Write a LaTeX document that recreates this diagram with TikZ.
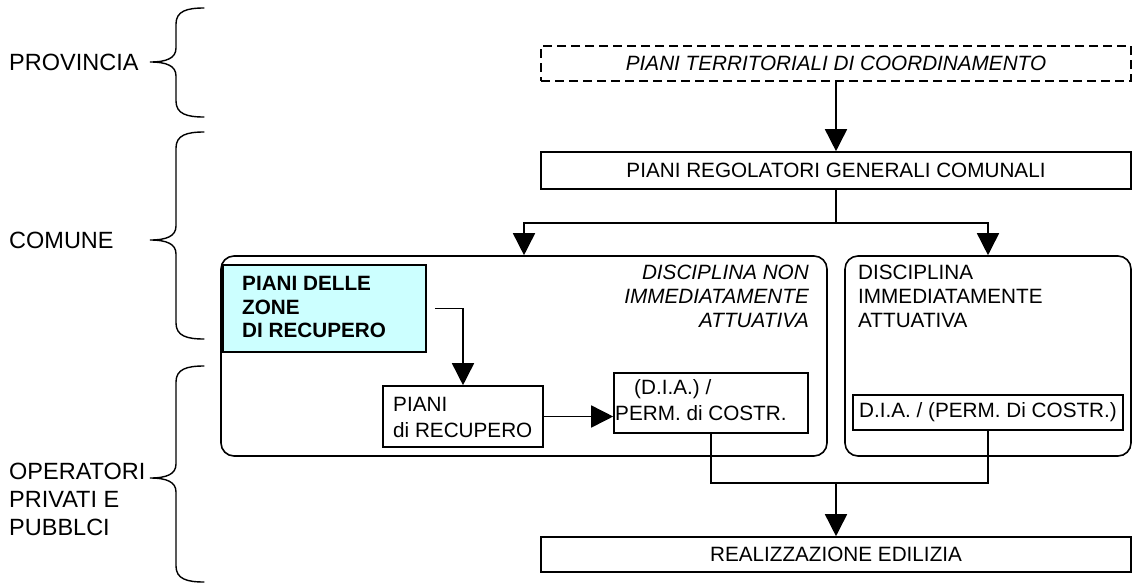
\documentclass[tikz,border=0pt]{standalone}
\usepackage{fontspec}
\setmainfont{Liberation Sans}
\usetikzlibrary{arrows.meta,fit}
\definecolor{paleCyan}{RGB}{204,255,255}
\tikzset{
  pics/curlybr/.style args={#1/#2/#3}{code={
    \draw[bracestroke] (204,#1) .. controls (187,#1) and (176,#1+3) .. (176,#1+16)
      -- (176,#2-14) .. controls (176,#2-4) and (167,#2) .. (150,#2)
      .. controls (167,#2) and (176,#2+4) .. (176,#2+14)
      -- (176,#3-16) .. controls (176,#3-3) and (187,#3) .. (204,#3);
  }}
}
\begin{document}
\begin{tikzpicture}[x=1pt,y=-1pt,
  box/.style={draw, line width=1.6pt, inner sep=0pt},
  rbox/.style={box, rounded corners=13pt},
  conn/.style={line width=1.6pt},
  arr/.style={conn, -{Triangle[length=22pt,width=22pt]}},
  bracestroke/.style={line width=1.4pt, line cap=round},
  lbl/.style={inner sep=0pt, font=\fontsize{23.5}{28}\selectfont, align=left},
  txt/.style={inner sep=0pt, font=\fontsize{20.7}{24}\selectfont},
]
\useasboundingbox (0,0) rectangle (1139,584);

% level labels and braces
\node[lbl, anchor=west] (provincia) at (9,62) {PROVINCIA};
\node[lbl, anchor=west] (comune) at (9,240) {COMUNE};
\node[lbl, anchor=west] (operatori) at (9,499) {OPERATORI\\PRIVATI E\\PUBBLCI};
\pic at (0,0) {curlybr=8/62/117};
\pic at (0,0) {curlybr=132/240/339};
\pic at (0,0) {curlybr=366/478/582};

% boxes
\node[box, dash pattern=on 9pt off 5pt, fit={(541,46) (1131,81)}] (ptc) {};
\node[box, fit={(541,152) (1131,189)}] (prg) {};
\node[rbox, fit={(221,256) (827,456)}] (lbox) {};
\node[rbox, fit={(845,256) (1131,456)}] (rbox) {};
\node[box, fill=paleCyan, fit={(223,265) (426,352)}] (pzr) {};
\node[box, fit={(383,386) (543,447)}] (pdr) {};
\node[box, fit={(614,373) (808,433)}] (dial) {};
\node[box, fit={(853,395) (1123,430)}] (diar) {};
\node[box, fit={(541,537) (1131,572)}] (real) {};

% texts
\node[txt, font=\fontsize{20.7}{24}\selectfont\itshape] (ptctxt) at (836,63) {PIANI TERRITORIALI DI COORDINAMENTO};
\node[txt] (prgtxt) at (836,170.5) {PIANI REGOLATORI GENERALI COMUNALI};
\node[txt, font=\fontsize{20.7}{24}\selectfont\itshape, align=right, anchor=east] (ltxt) at (809,296)
  {DISCIPLINA NON\\IMMEDIATAMENTE\\ATTUATIVA};
\node[txt, align=left, anchor=west] (rtxt) at (858,296)
  {DISCIPLINA\\IMMEDIATAMENTE\\ATTUATIVA};
\node[txt, font=\fontsize{20.7}{23.5}\selectfont\bfseries, align=left, anchor=west] (pzrtxt) at (242,307)
  {PIANI DELLE\\ZONE\\DI RECUPERO};
\node[txt, font=\fontsize{20.7}{26}\selectfont, align=left, anchor=west] (pdrtxt) at (393,417)
  {PIANI\\di RECUPERO};
\node[txt, font=\fontsize{20.7}{26}\selectfont, align=left, anchor=west] (dialtxt) at (615,400)
  {\hspace*{19pt}(D.I.A.) /\\PERM. di COSTR.};
\node[txt] (diartxt) at (988,412.5) {D.I.A. / (PERM. Di COSTR.)};
\node[txt] (realtxt) at (836,554.5) {REALIZZAZIONE EDILIZIA};

% connectors
\draw[arr] (ptc.south) -- (prg.north);
\coordinate (split) at (836,223);
\draw[conn] (prg.south) -- (split);
\draw[arr] (split) -| (lbox.north);
\draw[arr] (split) -| (rbox.north);
\draw[arr] ([xshift=8pt]pzr.east) -| (pdr.north);
\draw[arr] (pdr.east) -- (pdr.east -| dial.west);
\coordinate (join) at (836,483);
\draw[conn] (dial.south) |- (join) -| (diar.south);
\draw[arr] (join) -- (real.north);
\end{tikzpicture}
\end{document}
